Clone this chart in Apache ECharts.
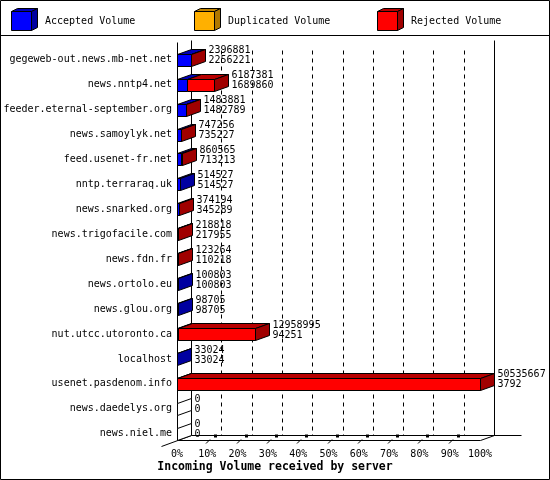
<!DOCTYPE html>
<html><head><meta charset="utf-8">
<script src="https://cdn.jsdelivr.net/npm/echarts@6/dist/echarts.min.js"></script>
<style>html,body{margin:0;padding:0;background:#fff}#c{width:550px;height:480px}</style>
</head><body><div id="c"></div>
<script>
const categories = ['gegeweb-out.news.mb-net.net','news.nntp4.net','feeder.eternal-september.org','news.samoylyk.net','feed.usenet-fr.net','nntp.terraraq.uk','news.snarked.org','news.trigofacile.com','news.fdn.fr','news.ortolo.eu','news.glou.org','nut.utcc.utoronto.ca','localhost','usenet.pasdenom.info','news.daedelys.org','news.niel.me'];
const totalVolume = [2396881, 6187381, 1483881, 747256, 860565, 514527, 374194, 218818, 123264, 100803, 98705, 12958995, 33024, 50535667, 0, 0];
const acceptedVolume = [2256221, 1689860, 1482789, 735227, 713213, 514527, 345289, 217955, 110218, 100803, 98705, 94251, 33024, 3792, 0, 0];
const legendNames = ['Accepted Volume', 'Duplicated Volume', 'Rejected Volume'];
const xTickLabels = ['0%','10%','20%','30%','40%','50%','60%','70%','80%','90%','100%'];
const axisTitle = 'Incoming Volume received by server';

const FONT = '"DejaVu Sans Mono", monospace';
const DX = 14, DY = -5, HALF = 6;
const COL = {
  acc: {front: '#0000ff', top: '#0000b8', side: '#0000a0'},
  dup: {front: '#ffb000', top: '#c08400', side: '#b07800'},
  rej: {front: '#ff0000', top: '#b80000', side: '#a00000'}
};
const maxTotal = Math.max(...totalVolume);
const pct = v => v / maxTotal * 100;
const barData = categories.map((c, i) => [i, pct(acceptedVolume[i]), pct(totalVolume[i]), totalVolume[i], acceptedVolume[i]]);

const R = v => Math.round(v) + 0.5;
const ln = (x1, y1, x2, y2, dash) => ({type: 'line', shape: {x1, y1, x2, y2}, style: {stroke: '#000', lineWidth: 1, lineDash: dash || null}});
const poly = (pts, fill) => ({type: 'polygon', shape: {points: pts}, style: {fill: fill, stroke: '#000', lineWidth: 1, lineJoin: 'miter'}});

function renderFrame(params, api) {
  const n = categories.length;
  const c0 = api.coord([0, 0]);
  const cL = api.coord([0, n - 1]);
  const xf = v => api.coord([v, 0])[0];
  const fy = R(cL[1] + HALF);
  const by = fy + DY;
  const x0 = R(xf(0)), x100 = R(xf(100));
  const topB = R(c0[1] - 20), topF = R(c0[1] - 18);
  const ch = [];
  for (let v = 10; v < 100; v += 10) {
    const x = R(xf(v)) + DX;
    ch.push(ln(x, R(c0[1] - 10), x, by, [4, 4]));
  }
  ch.push(ln(x0, topF, x0, fy));
  ch.push(ln(x0 + DX, topB, x0 + DX, by));
  ch.push(ln(x100 + DX, topB, x100 + DX, by));
  ch.push(ln(x0, fy, x100, fy));
  ch.push(ln(x0 + DX, by, x100 + DX + 27, by));
  ch.push(ln(x0 - 16, fy + 6, x0 + DX, by));
  ch.push(ln(x100, fy, x100 + DX, by));
  for (let v = 10; v < 100; v += 10) {
    const x = Math.round(xf(v));
    ch.push(ln(x - 1, fy + 3, x + 3, fy - 1));
    ch.push({type: 'rect', shape: {x: x + 7, y: fy - 6, width: 3, height: 3}, style: {fill: '#000'}});
  }
  return {type: 'group', children: ch};
}

function renderBar(params, api) {
  const i = api.value(0), a = api.value(1), t = api.value(2);
  const tot = api.value(3), acc = api.value(4);
  const p0 = api.coord([0, i]), pa = api.coord([a, i]), pt = api.coord([t, i]);
  const yc = p0[1];
  const yT = R(yc - HALF), yB = R(yc + HALF);
  const X0 = R(p0[0]), XA = R(pa[0]), XT = R(pt[0]);
  const ch = [];
  const segs = [];
  if (acc > 0) segs.push([X0, XA, COL.acc]);
  if (tot - acc > 0) segs.push([XA, XT, COL.rej]);
  segs.forEach(s => {
    const [x1, x2, c] = s;
    ch.push(poly([[x1, yT], [x2, yT], [x2, yB], [x1, yB]], c.front));
    ch.push(poly([[x1, yT], [x2, yT], [x2 + DX, yT + DY], [x1 + DX, yT + DY]], c.top));
  });
  const last = segs.length ? segs[segs.length - 1][2].side : '#fff';
  ch.push(poly([[XT, yT], [XT + DX, yT + DY], [XT + DX, yB + DY], [XT, yB]], last));
  ch.push({type: 'text', style: {text: tot + '\n' + acc, x: XT + DX + 3, y: yc - 4, verticalAlign: 'middle', align: 'left', fill: '#000', fontSize: 10, fontFamily: FONT, lineHeight: 10}});
  return {type: 'group', children: ch};
}

const legendGraphics = [];
const legendX = [11, 194, 377];
const legendCols = [COL.acc, COL.dup, COL.rej];
legendNames.forEach((name, k) => {
  const x = legendX[k] + 0.5, c = legendCols[k];
  legendGraphics.push({type: 'polygon', shape: {points: [[x, 11.5], [x + 20, 11.5], [x + 26, 8.5], [x + 6, 8.5]]}, style: {fill: c.top, stroke: '#000', lineWidth: 1}});
  legendGraphics.push({type: 'polygon', shape: {points: [[x + 20, 11.5], [x + 26, 8.5], [x + 26, 27.5], [x + 20, 30.5]]}, style: {fill: c.side, stroke: '#000', lineWidth: 1}});
  legendGraphics.push({type: 'rect', shape: {x: x, y: 11.5, width: 20, height: 19}, style: {fill: c.front, stroke: '#000', lineWidth: 1}});
  legendGraphics.push({type: 'text', style: {text: name, x: legendX[k] + 34, y: 21, verticalAlign: 'middle', align: 'left', fill: '#000', fontSize: 10, fontFamily: FONT}});
});

const chart = echarts.init(document.getElementById('c'), null, {renderer: 'canvas'});
chart.setOption({
  animation: false,
  backgroundColor: '#fff',
  grid: {left: 177, right: 70, top: 47.3, bottom: 33.8, containLabel: false},
  xAxis: {
    type: 'value', min: 0, max: 100, interval: 10,
    axisLine: {show: false}, axisTick: {show: false}, splitLine: {show: false},
    axisLabel: {margin: 3, color: '#000', fontSize: 10, fontFamily: FONT, formatter: v => xTickLabels[Math.round(v / 10)]}
  },
  yAxis: {
    type: 'category', data: categories, inverse: true,
    axisLine: {show: false}, axisTick: {show: false}, splitLine: {show: false},
    axisLabel: {margin: 5, color: '#000', fontSize: 10, fontFamily: FONT}
  },
  graphic: [
    {type: 'rect', shape: {x: 0.5, y: 0.5, width: 549, height: 479}, style: {fill: 'none', stroke: '#000', lineWidth: 1}, silent: true},
    {type: 'line', shape: {x1: 0, y1: 35.5, x2: 550, y2: 35.5}, style: {stroke: '#000', lineWidth: 1}, silent: true},
    {type: 'text', style: {text: axisTitle, x: 275, y: 467, align: 'center', verticalAlign: 'middle', fill: '#000', fontSize: 11.5, fontWeight: 'bold', fontFamily: FONT}, silent: true}
  ].concat(legendGraphics),
  series: [
    {type: 'custom', renderItem: renderFrame, data: [[0, 0]], encode: {x: 0, y: 1}, silent: true, z: 1, clip: false},
    {type: 'custom', renderItem: renderBar, data: barData, encode: {x: [1, 2], y: 0}, silent: true, z: 2, clip: false}
  ]
});
</script>
</body></html>
